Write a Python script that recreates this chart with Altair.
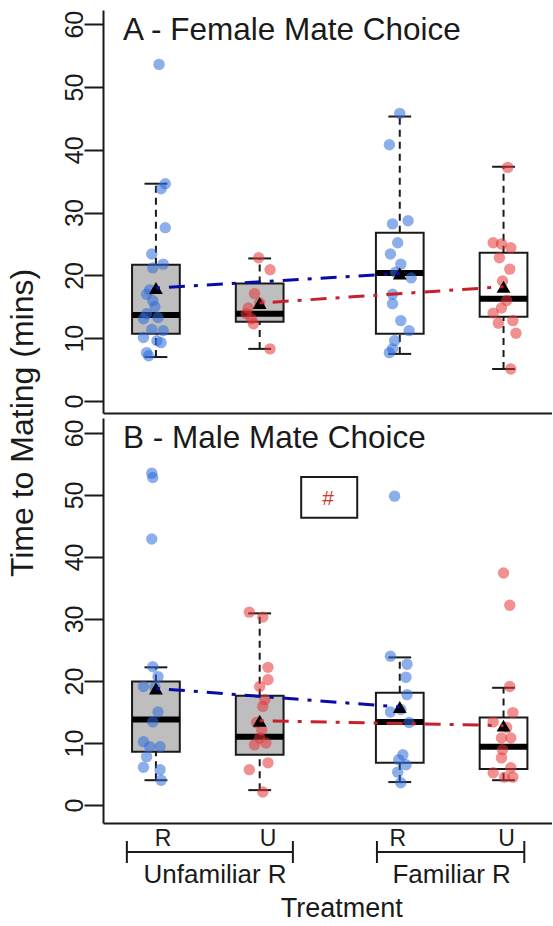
import altair as alt
import pandas as pd

FONT = "Liberation Sans, Arial, sans-serif"
INK = "#1a1a1a"

# ---------------- data ----------------
treat_pos = [1.0, 2.0, 3.35, 4.35]
treat_code = ["UR", "UU", "FR", "FU"]
treat_fill = ["#BEBEBE", "#BEBEBE", "#FFFFFF", "#FFFFFF"]
treat_grp = ["R", "U", "R", "U"]

# Panel A - Female mate choice (time to mating, mins)
a_ur_val = [53.6, 34.6, 33.8, 27.6, 23.4, 21.8, 21.2, 17.0, 16.0, 13.9, 13.3, 13.1, 11.4, 11.2, 10.1, 9.6, 9.3, 7.7, 7.2, 17.7, 15.0]
a_ur_jit = [0.03, 0.09, 0.05, 0.09, -0.04, 0.07, -0.03, -0.09, -0.03, -0.09, 0.02, -0.12, -0.04, 0.07, -0.12, 0.01, 0.05, -0.09, -0.07, -0.06, -0.01]
a_uu_val = [22.8, 20.9, 17.1, 14.8, 13.9, 13.1, 12.3, 8.3, 15.6]
a_uu_jit = [-0.01, 0.10, -0.05, -0.11, -0.13, -0.08, -0.06, 0.10, 0.0]
a_fr_val = [45.8, 40.8, 28.2, 28.7, 25.2, 23.4, 21.8, 19.6, 17.0, 15.5, 12.8, 11.2, 9.6, 7.7, 8.3, 20.5]
a_fr_jit = [0.0, -0.10, -0.07, 0.08, -0.02, -0.09, 0.01, 0.11, -0.07, -0.07, 0.01, 0.09, -0.05, -0.10, -0.07, -0.04]
a_fu_val = [37.2, 25.2, 25.0, 24.4, 22.8, 21.0, 19.1, 16.0, 14.8, 14.0, 12.8, 12.4, 10.8, 5.1]
a_fu_jit = [0.04, -0.10, -0.02, 0.07, -0.04, 0.06, -0.01, 0.03, -0.02, -0.10, 0.09, -0.05, 0.12, 0.07]

a_lo = [7.0, 8.3, 7.5, 5.1]
a_q1 = [10.7, 12.6, 10.7, 13.4]
a_med = [13.7, 13.9, 20.4, 16.3]
a_q3 = [21.7, 18.7, 26.8, 23.6]
a_hi = [34.6, 22.7, 45.3, 37.3]
a_mean = [18.0, 15.6, 20.3, 18.2]

# Panel B - Male mate choice
b_ur_val = [53.5, 52.8, 42.9, 22.3, 20.7, 19.1, 15.0, 13.4, 10.2, 9.4, 9.4, 7.8, 6.1, 5.7, 4.0, 19.0]
b_ur_jit = [-0.04, -0.03, -0.04, -0.03, 0.02, -0.12, 0.02, -0.03, -0.12, -0.06, 0.04, -0.09, -0.12, 0.04, 0.05, -0.01]
b_uu_val = [31.1, 30.3, 22.2, 20.2, 19.1, 17.0, 15.9, 13.3, 12.1, 10.8, 10.0, 9.7, 6.8, 5.7, 2.1]
b_uu_jit = [-0.10, 0.03, 0.08, 0.08, 0.0, 0.05, 0.03, -0.03, 0.02, 0.0, 0.06, -0.05, 0.08, -0.10, 0.03]
b_fr_val = [49.8, 24.0, 22.7, 20.6, 17.8, 15.0, 15.4, 13.3, 8.1, 7.3, 6.5, 5.3, 3.6]
b_fr_jit = [-0.05, -0.09, 0.07, 0.06, 0.07, -0.09, 0.01, 0.09, 0.03, -0.01, 0.06, -0.02, 0.01]
b_fu_val = [37.4, 32.2, 19.1, 14.9, 13.4, 12.5, 10.8, 10.8, 8.9, 7.6, 6.0, 5.2, 4.5, 4.5]
b_fu_jit = [0.0, 0.06, 0.06, 0.09, -0.10, 0.03, -0.02, 0.07, -0.01, -0.02, 0.07, -0.10, 0.09, 0.01]

b_lo = [4.0, 2.4, 3.7, 4.0]
b_q1 = [8.6, 8.1, 6.8, 5.8]
b_med = [13.8, 11.0, 13.4, 9.4]
b_q3 = [19.9, 17.6, 18.1, 14.1]
b_hi = [22.2, 30.9, 23.8, 18.9]
b_mean = [18.8, 13.6, 15.8, 12.8]

# x axis annotation
tick_label_pos = [1.07, 2.08, 3.33, 4.38]
tick_label_txt = ["R", "U", "R", "U"]
bracket_start = [0.72, 3.13]
bracket_end = [2.32, 4.55]
group_label_pos = [1.57, 3.85]
group_label_txt = ["Unfamiliar R", "Familiar R"]
x_title_pos = [2.79]
x_title_txt = ["Treatment"]
y_title_txt = "Time to Mating (mins)"

hash_box = {"x": [2.40], "x2": [2.94], "y": [46.3], "y2": [52.9]}
hash_txt = {"x": [2.66], "y": [49.3], "t": ["#"]}

BLUE_PT = "#2E6BDB"
RED_PT = "#E63535"
BLUE_LN = "#0A0AA8"
RED_LN = "#C8202A"

# ---------------- helpers ----------------
X_DOMAIN = [0.49, 4.817]
W = 449


def points_df(vals_list, jits_list):
    rows = []
    for k, (vals, jits) in enumerate(zip(vals_list, jits_list)):
        for v, j in zip(vals, jits):
            rows.append({"x": treat_pos[k] + j, "v": v,
                         "col": BLUE_PT if treat_grp[k] == "R" else RED_PT})
    return pd.DataFrame(rows)


def box_df(lo, q1, med, q3, hi, mean):
    return pd.DataFrame({
        "pos": treat_pos, "lo": lo, "q1": q1, "med": med, "q3": q3, "hi": hi,
        "mean": mean, "fill": treat_fill, "grp": treat_grp,
        "left": [p - 0.23 for p in treat_pos], "right": [p + 0.23 for p in treat_pos],
        "capl": [p - 0.11 for p in treat_pos], "capr": [p + 0.11 for p in treat_pos],
        "lcol": [BLUE_LN if g == "R" else RED_LN for g in treat_grp],
    })


def panel(pts, box, ydom, height, title, extra=None):
    xs = alt.Scale(domain=X_DOMAIN, nice=False, zero=False)
    ys = alt.Scale(domain=ydom, nice=False, zero=False)
    xax = alt.Axis(domain=True, domainColor=INK, domainWidth=2, ticks=False,
                   labels=False, grid=False, title=None)
    yax = alt.Axis(values=[0, 10, 20, 30, 40, 50, 60], domain=True, domainColor=INK,
                   domainWidth=2, tickSize=19, tickWidth=2, tickColor=INK,
                   labelAngle=270, labelAlign="center", labelBaseline="alphabetic",
                   labelPadding=2, labelFontSize=25, labelFont=FONT, labelColor=INK,
                   labelFlush=False, labelOverlap=False, grid=False, title=None)

    def X(f):
        return alt.X(f, type="quantitative", scale=xs, axis=xax)

    def Y(f):
        return alt.Y(f, type="quantitative", scale=ys, axis=yax)

    base = alt.Chart(box)
    wh_up = base.mark_rule(color=INK, strokeWidth=2, strokeDash=[7, 5]).encode(
        x=X("pos"), y=Y("q3"), y2="hi")
    wh_lo = base.mark_rule(color=INK, strokeWidth=2, strokeDash=[7, 5]).encode(
        x=X("pos"), y=Y("lo"), y2="q1")
    cap_hi = base.mark_rule(color=INK, strokeWidth=2).encode(
        x=X("capl"), x2="capr", y=Y("hi"))
    cap_lo = base.mark_rule(color=INK, strokeWidth=2).encode(
        x=X("capl"), x2="capr", y=Y("lo"))
    rect = base.mark_rect(stroke=INK, strokeWidth=2).encode(
        x=X("left"), x2="right", y=Y("q1"), y2="q3",
        fill=alt.Fill("fill:N", scale=None))
    median = base.mark_rule(color="#000000", strokeWidth=6).encode(
        x=X("left"), x2="right", y=Y("med"))
    dots = alt.Chart(pts).mark_circle(size=130, opacity=0.55).encode(
        x=X("x"), y=Y("v"), color=alt.Color("col:N", scale=None))
    tri = base.mark_point(shape="triangle-up", filled=True, size=190,
                          color="#000000", opacity=1).encode(x=X("pos"), y=Y("mean"))
    lines = base.mark_line(strokeWidth=3, strokeDash=[4, 9, 16, 9]).encode(
        x=X("pos"), y=Y("mean"), detail="grp:N",
        color=alt.Color("lcol:N", scale=None))
    ttl = alt.Chart(pd.DataFrame({"t": [title]})).mark_text(
        align="left", baseline="alphabetic", fontSize=31.5, font=FONT, color=INK
    ).encode(x=alt.value(20), y=alt.value(30), text="t:N")

    layers = [rect, wh_up, wh_lo, cap_hi, cap_lo, median, dots, tri, lines, ttl]
    if extra:
        layers += extra(X, Y)
    return alt.layer(*layers).properties(width=W, height=height)


def extra_a(X, Y):
    yt = alt.Chart(pd.DataFrame({"t": [y_title_txt]})).mark_text(
        angle=270, align="center", baseline="alphabetic", fontSize=32, font=FONT, color=INK
    ).encode(x=alt.value(-70), y=alt.value(413), text="t:N")
    return [yt]


def extra_b(X, Y):
    hb = alt.Chart(pd.DataFrame(hash_box)).mark_rect(
        fillOpacity=0, stroke=INK, strokeWidth=2).encode(
        x=X("x"), x2="x2", y=Y("y"), y2="y2")
    ht = alt.Chart(pd.DataFrame(hash_txt)).mark_text(
        fontSize=21, font=FONT, color="#D03A2A", baseline="middle", align="center").encode(
        x=X("x"), y=Y("y"), text="t:N")
    tl = alt.Chart(pd.DataFrame({"x": tick_label_pos, "t": tick_label_txt})).mark_text(
        fontSize=23, font=FONT, color=INK, baseline="alphabetic", align="center").encode(
        x=X("x"), y=alt.value(428), text="t:N")
    br_df = pd.DataFrame({"s": bracket_start, "e": bracket_end})
    br = alt.Chart(br_df).mark_rule(color=INK, strokeWidth=2).encode(
        x=X("s"), x2="e", y=alt.value(434))
    br_s = alt.Chart(br_df).mark_rule(color=INK, strokeWidth=2).encode(
        x=X("s"), y=alt.value(423), y2=alt.value(445))
    br_e = alt.Chart(br_df).mark_rule(color=INK, strokeWidth=2).encode(
        x=X("e"), y=alt.value(423), y2=alt.value(445))
    gl = alt.Chart(pd.DataFrame({"x": group_label_pos, "t": group_label_txt})).mark_text(
        fontSize=26, font=FONT, color=INK, baseline="alphabetic", align="center").encode(
        x=X("x"), y=alt.value(465), text="t:N")
    xt = alt.Chart(pd.DataFrame({"x": x_title_pos, "t": x_title_txt})).mark_text(
        fontSize=27, font=FONT, color=INK, baseline="alphabetic", align="center").encode(
        x=X("x"), y=alt.value(499), text="t:N")
    return [hb, ht, tl, br, br_s, br_e, gl, xt]


panel_a = panel(points_df([a_ur_val, a_uu_val, a_fr_val, a_fu_val],
                          [a_ur_jit, a_uu_jit, a_fr_jit, a_fu_jit]),
                box_df(a_lo, a_q1, a_med, a_q3, a_hi, a_mean),
                [-1.91, 62.26], 403, "A - Female Mate Choice", extra_a)
panel_b = panel(points_df([b_ur_val, b_uu_val, b_fr_val, b_fu_val],
                          [b_ur_jit, b_uu_jit, b_fr_jit, b_fu_jit]),
                box_df(b_lo, b_q1, b_med, b_q3, b_hi, b_mean),
                [-2.9, 62.4], 405, "B - Male Mate Choice", extra_b)

chart = alt.vconcat(panel_a, panel_b, spacing=5, bounds="flush").properties(
    padding={"left": 7, "top": 10, "right": 0, "bottom": 0},
    background="white",
).configure_view(stroke="transparent", strokeWidth=0)

chart.save("out.html", embed_options={"renderer": "svg", "actions": False})
